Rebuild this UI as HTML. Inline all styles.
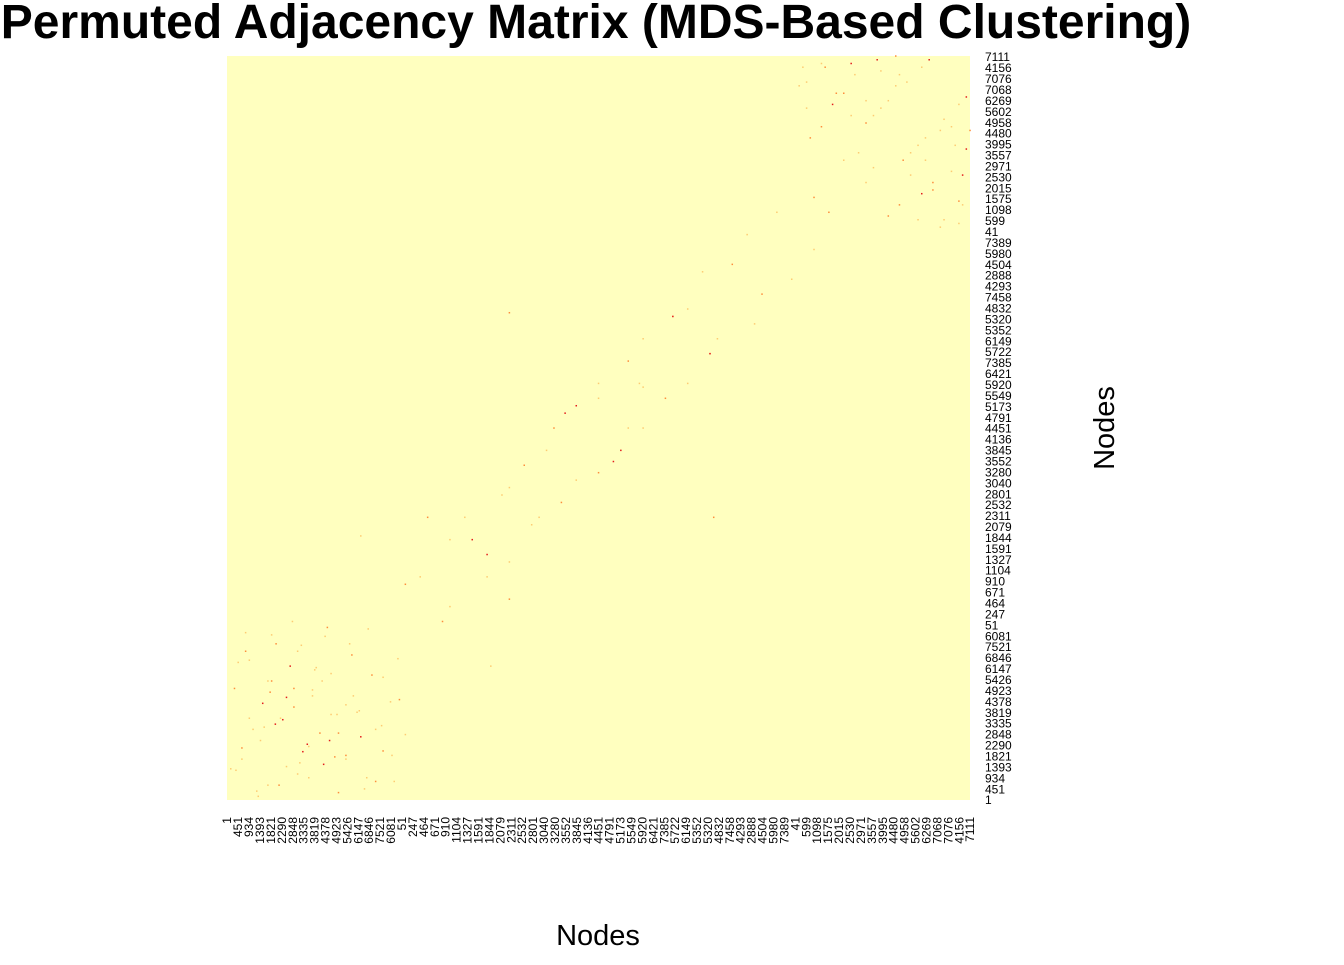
<!DOCTYPE html>
<html><head><meta charset="utf-8">
<style>
body{margin:0;background:#fff;width:1344px;height:960px;overflow:hidden;font-family:"Liberation Sans",sans-serif}
</style></head>
<body>
<svg width="1344" height="960" xmlns="http://www.w3.org/2000/svg">
<text x="596" y="38" text-anchor="middle" font-size="48" font-weight="bold" font-family="Liberation Sans, sans-serif">Permuted Adjacency Matrix (MDS-Based Clustering)</text>
<rect x="227" y="56" width="743" height="744" fill="#FFFFBF"/>
<g id="cells"></g>
<g id="xt"></g>
<g id="yt"></g>
<text x="598" y="945" text-anchor="middle" font-size="29">Nodes</text>
<text transform="translate(1114,428) rotate(-90)" text-anchor="middle" font-size="29">Nodes</text>
</svg>
<script>
const tickLabels=["1","451","934","1393","1821","2290","2848","3335","3819","4378","4923","5426","6147","6846","7521","6081","51","247","464","671","910","1104","1327","1591","1844","2079","2311","2532","2801","3040","3280","3552","3845","4136","4451","4791","5173","5549","5920","6421","7385","5722","6149","5352","5320","4832","7458","4293","2888","4504","5980","7389","41","599","1098","1575","2015","2530","2971","3557","3995","4480","4958","5602","6269","7068","7076","4156","7111"];
// edges: node rank a, node rank b (0-1000 scale), weight level 1..3
const edgeA=[12,20,35,48,55,60,72,80,90,95,102,110,118,125,132,140,150,160,170,180,190,200,210,222,232,15,42,66,88,108,128,148,168,188,208,25,58,98,138,178,
 770,785,800,815,830,845,860,875,890,905,920,935,950,965,980,995,780,810,840,870,900,930,960,990,775,820,880,940,985,905,
 260,290,320,350,380,410,440,470,500,530,560,590,620,650,680,710,740,300,400,500,600,700,270,455,355,555,655];
const edgeB=[40,70,95,130,20,160,110,45,150,200,65,30,175,90,220,115,10,55,140,85,230,25,165,60,135,185,5,210,240,75,160,115,195,30,100,225,145,50,80,120,
 960,890,990,935,860,975,910,995,940,800,870,985,830,915,880,945,965,790,920,850,1000,780,900,840,985,950,930,860,805,975,
 300,240,380,330,420,370,500,430,560,470,620,540,660,600,720,640,790,350,450,540,650,760,380,520,180,560,380];
const edgeW=[1,2,1,3,1,2,1,1,2,1,3,1,1,2,1,1,2,1,1,3,1,2,1,1,2,1,1,2,1,3,1,1,2,1,1,1,2,1,3,1,
 1,2,1,3,1,1,2,3,1,2,1,1,2,1,1,3,1,2,1,1,2,1,1,3,1,2,1,1,2,1,
 1,2,1,3,1,1,2,1,1,3,1,2,1,1,2,1,1,1,2,1,3,1,2,3,1,1,2];
const X0=227,Y0=800,W=743,H=744;
const xs=v=>X0+v/1000*W, ys=v=>Y0-v/1000*H;
const colors={1:"#FDCB72",2:"#FD8D3C",3:"#E31A1C"};
const NS="http://www.w3.org/2000/svg";
const cells=document.getElementById('cells');
function cell(a,b,w){
  const r=document.createElementNS(NS,'rect');
  
  
  r.setAttribute('x',xs(a)-0.7);r.setAttribute('y',ys(b)-0.7);
  r.setAttribute('width',1.5);r.setAttribute('height',1.5);
  r.setAttribute('fill',colors[w]);cells.appendChild(r);
}
for(let i=0;i<edgeA.length;i++){cell(edgeA[i],edgeB[i],edgeW[i]);cell(edgeB[i],edgeA[i],edgeW[i]);}
const n=tickLabels.length, step=W/(n-1);
const xt=document.getElementById('xt'), yt=document.getElementById('yt');
tickLabels.forEach((l,i)=>{
  const x=X0+i*step;
  const t=document.createElementNS(NS,'text');
  
  
  t.setAttribute('transform',`translate(${x+4.2},817) rotate(-90)`);
  t.setAttribute('text-anchor','end');t.setAttribute('font-size','12');
  t.textContent=l;xt.appendChild(t);
  const y=Y0-i*step;
  const u=document.createElementNS(NS,'text');
  
  
  u.setAttribute('x',985);u.setAttribute('y',y+4.2);u.setAttribute('font-size','12');
  u.textContent=l;yt.appendChild(u);
});
</script>
</body></html>
